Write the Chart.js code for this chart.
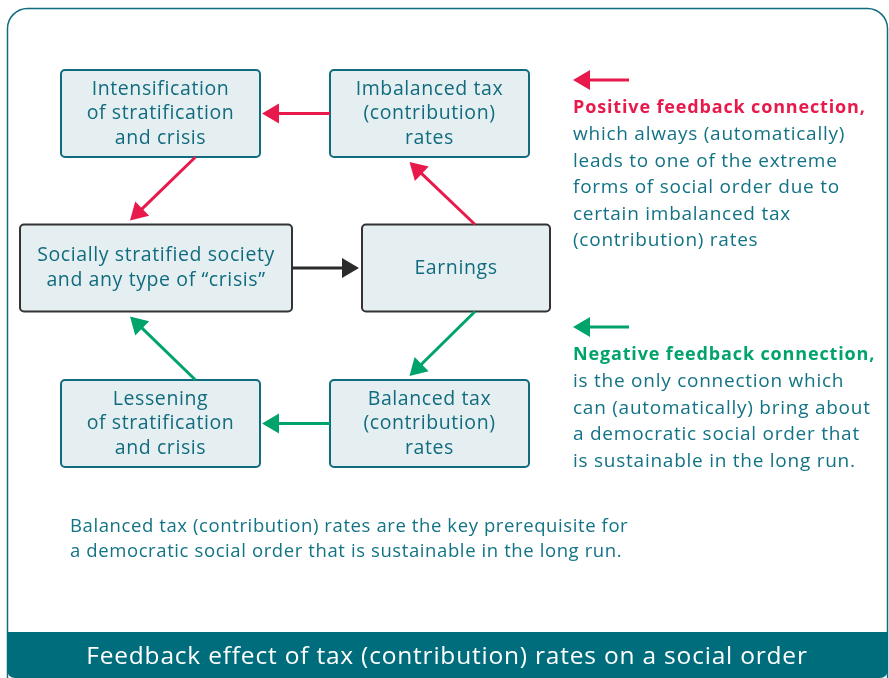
<!DOCTYPE html>
<html>
<head>
<meta charset="utf-8">
<script src="https://cdn.jsdelivr.net/npm/chart.js@4"></script>
<style>
  html, body { margin: 0; padding: 0; background: #fff; }
  #wrap { width: 889px; height: 678px; }
</style>
</head>
<body>
<div id="wrap"><canvas id="diagram" width="889" height="678"></canvas></div>
<script>
/* Feedback effect diagram — drawn on a hidden linear x/y grid */

// nodes (centre of each box in diagram units)
const boxLabels = [
  ['Intensification', 'of stratification', 'and crisis'],
  ['Imbalanced tax', '(contribution)', 'rates'],
  ['Socially stratified society', 'and any type of \u201Ccrisis\u201D'],
  ['Earnings'],
  ['Lessening', 'of stratification', 'and crisis'],
  ['Balanced tax', '(contribution)', 'rates'],
];
const boxX = [160.5, 429.5, 156, 456, 160.5, 429.5];
const boxY = [113.5, 113.5, 268, 268, 423.5, 423.5];
const boxKind = ['pos', 'pos', 'core', 'core', 'neg', 'neg'];

// connections: source -> target, and their type
const edgeFrom = [1, 0, 3, 2, 3, 5, 4];
const edgeTo   = [0, 2, 1, 3, 5, 4, 2];
const edgeKind = ['pos', 'pos', 'pos', 'core', 'neg', 'neg', 'neg'];

const posTitle = 'Positive feedback connection,';
const posLines = [
  'which always (automatically)',
  'leads to one of the extreme',
  'forms of social order due to',
  'certain imbalanced tax',
  '(contribution) rates',
];
const negTitle = 'Negative feedback connection,';
const negLines = [
  'is the only connection which',
  'can (automatically) bring about',
  'a democratic social order that',
  'is sustainable in the long run.',
];
const noteLines = [
  'Balanced tax (contribution) rates are the key prerequisite for',
  'a democratic social order that is sustainable in the long run.',
];
const titleText = 'Feedback effect of tax (contribution) rates on a social order';

// styles
const COL = {
  pos: '#e8194b',
  neg: '#00a46b',
  core: '#2b2b2b',
  teal: '#116b7e',
  text: '#137386',
  fill: '#e5eff2',
  band: '#006d7d',
};
const FONT = '"Open Sans", Roboto, sans-serif';
const boxW = { pos: 199, neg: 199, core: 272 };
const boxH = 87;

function boxRect(chart, i) {
  const xs = chart.scales.x, ys = chart.scales.y;
  const cx = xs.getPixelForValue(boxX[i]);
  const cy = ys.getPixelForValue(boxY[i]);
  let w = boxW[boxKind[i]];
  if (i === 3) w = 188;
  return { cx, cy, l: cx - w / 2, r: cx + w / 2, t: cy - boxH / 2, b: cy + boxH / 2 };
}

function arrow(ctx, x1, y1, x2, y2, color) {
  const ang = Math.atan2(y2 - y1, x2 - x1);
  const head = 17, half = 10;
  const bx = x2 - head * Math.cos(ang), by = y2 - head * Math.sin(ang);
  ctx.strokeStyle = color;
  ctx.fillStyle = color;
  ctx.lineWidth = 3;
  ctx.lineCap = 'butt';
  ctx.beginPath();
  ctx.moveTo(x1, y1);
  ctx.lineTo(bx + 2 * Math.cos(ang), by + 2 * Math.sin(ang));
  ctx.stroke();
  ctx.beginPath();
  ctx.moveTo(x2, y2);
  ctx.lineTo(bx + half * Math.sin(ang), by - half * Math.cos(ang));
  ctx.lineTo(bx - half * Math.sin(ang), by + half * Math.cos(ang));
  ctx.closePath();
  ctx.fill();
}

const diagramPlugin = {
  id: 'diagram',
  afterDraw(chart) {
    const ctx = chart.ctx;
    ctx.save();

    // frame
    ctx.strokeStyle = COL.teal;
    ctx.lineWidth = 1.5;
    ctx.beginPath();
    ctx.roundRect(7.5, 8.5, 880, 700, 20);
    ctx.stroke();

    // title band
    ctx.fillStyle = COL.band;
    ctx.beginPath();
    ctx.roundRect(7, 632, 881, 46, [0, 0, 8, 8]);
    ctx.fill();
    ctx.fillStyle = '#ffffff';
    ctx.font = '24.5px ' + FONT;
    ctx.letterSpacing = '0.8px';
    ctx.textAlign = 'center';
    ctx.textBaseline = 'middle';
    ctx.fillText(titleText, 447, 657);

    // boxes
    ctx.letterSpacing = '0.6px';
    boxLabels.forEach((lines, i) => {
      const r = boxRect(chart, i);
      ctx.fillStyle = COL.fill;
      ctx.strokeStyle = boxKind[i] === 'core' ? '#333333' : COL.teal;
      ctx.lineWidth = 2;
      ctx.beginPath();
      ctx.roundRect(r.l, r.t, r.r - r.l, r.b - r.t, 4);
      ctx.fill();
      ctx.stroke();
      ctx.fillStyle = COL.teal;
      ctx.font = '19.5px ' + FONT;
      ctx.textAlign = 'center';
      ctx.textBaseline = 'middle';
      const lh = 24.5;
      lines.forEach((t, k) => {
        ctx.fillText(t, r.cx, r.cy + (k - (lines.length - 1) / 2) * lh);
      });
    });

    // connections
    edgeFrom.forEach((f, k) => {
      const a = boxRect(chart, f), b = boxRect(chart, edgeTo[k]);
      const color = COL[edgeKind[k]];
      if (Math.abs(a.cy - b.cy) < 1) {
        if (a.cx > b.cx) arrow(ctx, a.l, a.cy, b.r + 2, b.cy, color);
        else arrow(ctx, a.r, a.cy, b.l - 3, b.cy, color);
      } else {
        const sx = f === 3 ? a.cx + 19 : a.cx + 35;
        const tx = edgeTo[k] === 2 ? b.cx - 26 : b.cx - 20;
        const down = b.cy > a.cy;
        const sy = down ? a.b : a.t;
        const ty = down ? b.t - 4 : b.b + 5;
        arrow(ctx, sx, sy, tx, ty, color);
      }
    });

    // legend: positive
    ctx.textAlign = 'left';
    ctx.textBaseline = 'middle';
    arrow(ctx, 629, 80, 573, 80, COL.pos);
    ctx.fillStyle = COL.pos;
    ctx.font = 'bold 18px ' + FONT;
    ctx.letterSpacing = '0.85px';
    ctx.fillText(posTitle, 573, 108);
    ctx.fillStyle = COL.text;
    ctx.font = '19px ' + FONT;
    ctx.letterSpacing = '0.75px';
    posLines.forEach((t, k) => ctx.fillText(t, 573, 134.5 + k * 26.6));

    // legend: negative
    arrow(ctx, 629, 327, 573, 327, COL.neg);
    ctx.fillStyle = COL.neg;
    ctx.font = 'bold 18px ' + FONT;
    ctx.letterSpacing = '0.85px';
    ctx.fillText(negTitle, 573, 355);
    ctx.fillStyle = COL.text;
    ctx.font = '19px ' + FONT;
    ctx.letterSpacing = '0.75px';
    negLines.forEach((t, k) => ctx.fillText(t, 573, 382 + k * 26.4));

    // note
    ctx.font = '18.5px ' + FONT;
    ctx.letterSpacing = '0.6px';
    noteLines.forEach((t, k) => ctx.fillText(t, 70, 527 + k * 25));

    ctx.restore();
  },
};

new Chart(document.getElementById('diagram'), {
  type: 'scatter',
  data: { datasets: [{ data: boxX.map((x, i) => ({ x, y: boxY[i] })), pointRadius: 0 }] },
  options: {
    responsive: false,
    animation: false,
    devicePixelRatio: 1,
    layout: { padding: 0 },
    plugins: { legend: { display: false }, tooltip: { enabled: false } },
    scales: {
      x: { type: 'linear', min: 0, max: 889, display: false },
      y: { type: 'linear', min: 0, max: 678, reverse: true, display: false },
    },
  },
  plugins: [diagramPlugin],
});
</script>
</body>
</html>
